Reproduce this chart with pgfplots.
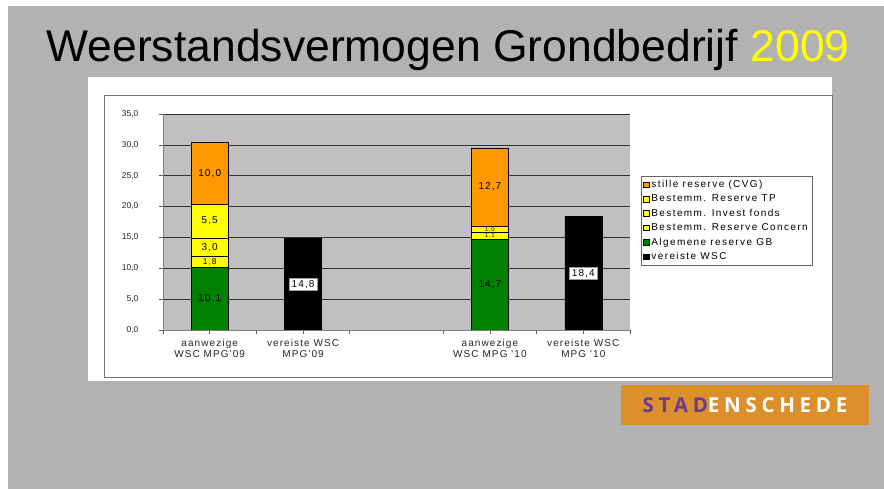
\documentclass[border=0pt]{standalone}
\usepackage{fontspec}
\setmainfont{Liberation Sans}
\newfontfamily\widefont[LetterSpace=11]{Liberation Sans}
\newfontfamily\legfont[LetterSpace=14]{Liberation Sans}
\newfontfamily\logofont[LetterSpace=23]{Open Sans}
\usepackage{pgfplots}
\pgfplotsset{compat=1.18}
\definecolor{bggray}{HTML}{B2B2B2}
\definecolor{plotgray}{HTML}{C0C0C0}
\definecolor{barorange}{HTML}{FF9900}
\definecolor{baryellow}{HTML}{FFFF00}
\definecolor{bargreen}{HTML}{008000}
\definecolor{logoorange}{HTML}{DC902C}
\definecolor{logopurple}{HTML}{6C3A94}
\newcommand{\lblfont}{\widefont\fontsize{10}{11}\selectfont}

\begin{document}
\begin{tikzpicture}
\fill[white] (0pt,0pt) rectangle (884pt,489pt);
\fill[bggray] (8pt,0pt) rectangle (884pt,483pt);
\fill[white] (88pt,108pt) rectangle (832pt,412pt);
\draw[black!55, line width=0.8pt] (104pt,112pt) rectangle (832pt,394pt);
\node[anchor=base, font=\fontsize{44.5}{50}\selectfont] at (448pt,427pt)
  {Weerstandsvermogen Grondbedrijf \textcolor{baryellow}{2009}};
\fill[logoorange] (621pt,64pt) rectangle (869pt,104pt);
\node[font=\logofont\bfseries\fontsize{20.5}{24}\selectfont] at (745pt,84pt)
  {\textcolor{logopurple}{STAD}\textcolor{white}{ENSCHEDE}};

\begin{axis}[
  at={(163pt,159pt)}, anchor=south west,
  scale only axis, width=467pt, height=216pt,
  ybar stacked, bar width=37pt,
  xmin=-0.5, xmax=4.5, ymin=0, ymax=35,
  axis background/.style={fill=plotgray},
  axis x line*=bottom, axis y line*=left,
  axis line style={black!50, line width=0.8pt},
  xtick={0,1,3,4},
  xticklabels={{aanwezige\\WSC MPG'09},{vereiste WSC\\MPG'09},{aanwezige\\WSC MPG '10},{vereiste WSC\\MPG '10}},
  xticklabel style={align=center, font=\widefont\fontsize{10}{11}\selectfont, text=black!85, yshift=-2pt},
  minor xtick={-0.5,0.5,1.5,2.5,3.5,4.5},
  ytick={0,5,...,35},
  yticklabels={{0,0},{5,0},{10,0},{15,0},{20,0},{25,0},{30,0},{35,0}},
  ymajorgrids, grid style={black!80, line width=0.6pt},
  tick style={black!65, line width=0.7pt},
  tick align=outside, major tick length=4pt, minor tick length=4pt,
  yticklabel style={font=\fontsize{8.5}{9}\selectfont, text=black!85, xshift=-17pt},
]
\addplot[fill=bargreen, draw=black, line width=0.6pt] coordinates {(0,10.1) (1,0) (3,14.7) (4,0)};
\addplot[fill=baryellow, draw=black, line width=0.6pt] coordinates {(0,1.8) (1,0) (3,1.1) (4,0)};
\addplot[fill=baryellow, draw=black, line width=0.6pt] coordinates {(0,3.0) (1,0) (3,1.0) (4,0)};
\addplot[fill=baryellow, draw=black, line width=0.6pt] coordinates {(0,5.5) (1,0) (3,0) (4,0)};
\addplot[fill=barorange, draw=black, line width=0.6pt] coordinates {(0,10.0) (1,0) (3,12.7) (4,0)};
\addplot[fill=black, draw=black, line width=0.6pt] coordinates {(0,0) (1,14.8) (3,0) (4,18.4)};
\end{axis}

\begin{axis}[
  at={(163pt,159pt)}, anchor=south west,
  scale only axis, width=467pt, height=216pt,
  xmin=-0.5, xmax=4.5, ymin=0, ymax=35, hide axis, clip=false,
  legend cell align=left,
  legend style={at={(1.0236,0.713)}, anchor=north west, draw=black!60, line width=0.6pt,
    font=\legfont\fontsize{10}{11}\selectfont, row sep=1.8pt, inner sep=2pt},
  legend image code/.code={\draw[#1, line width=0.5pt] (1pt,-2.8pt) rectangle (6.6pt,2.8pt);},
]
\addlegendimage{fill=barorange, draw=black}
\addlegendentry{stille reserve (CVG)}
\addlegendimage{fill=baryellow, draw=black}
\addlegendentry{Bestemm. Reserve TP}
\addlegendimage{fill=baryellow, draw=black}
\addlegendentry{Bestemm. Invest fonds}
\addlegendimage{fill=baryellow!80!white, draw=black}
\addlegendentry{Bestemm. Reserve Concern}
\addlegendimage{fill=bargreen, draw=black}
\addlegendentry{Algemene reserve GB}
\addlegendimage{fill=black, draw=black}
\addlegendentry{vereiste WSC}

\node[font=\lblfont, inner sep=1pt] at (axis cs:0,5.05) {10,1};
\node[font=\widefont\fontsize{8.5}{9}\selectfont, inner sep=0pt] at (axis cs:0,10.95) {1,8};
\node[font=\lblfont, inner sep=1pt] at (axis cs:0,13.4) {3,0};
\node[font=\lblfont, inner sep=1pt] at (axis cs:0,17.65) {5,5};
\node[font=\lblfont, inner sep=1pt] at (axis cs:0,25.4) {10,0};
\node[font=\lblfont, inner xsep=3pt, inner ysep=1.5pt, fill=white, draw=black!40] at (axis cs:1,7.4) {14,8};
\node[font=\lblfont, inner sep=1pt] at (axis cs:3,7.35) {14,7};
\node[font=\widefont\fontsize{6}{7}\selectfont, inner sep=0pt] at (axis cs:3,15.25) {1,1};
\node[font=\widefont\fontsize{6}{7}\selectfont, inner sep=0pt] at (axis cs:3,16.3) {1,0};
\node[font=\lblfont, inner sep=1pt] at (axis cs:3,23.15) {12,7};
\node[font=\lblfont, inner xsep=3pt, inner ysep=1.5pt, fill=white, draw=black!40] at (axis cs:4,9.2) {18,4};
\end{axis}
\end{tikzpicture}
\end{document}
